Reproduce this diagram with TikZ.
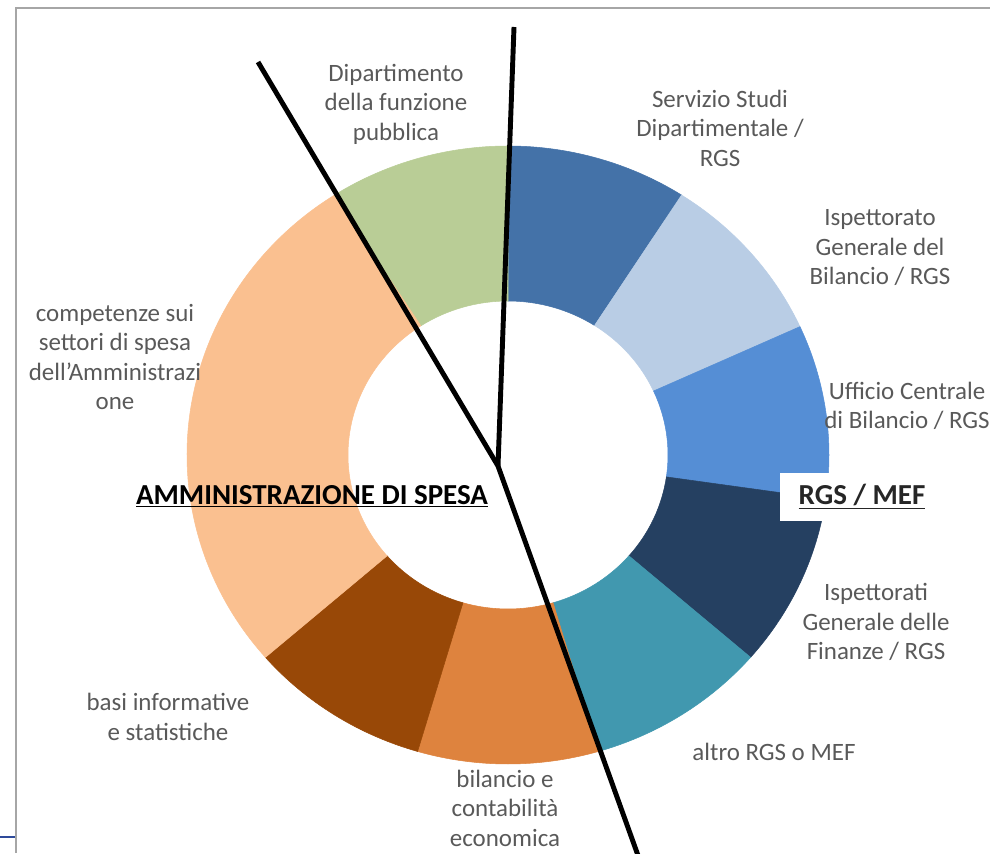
\documentclass[tikz,border=0pt]{standalone}
\usepackage{fontspec}
\setmainfont{Carlito}
\definecolor{rgsblue}{HTML}{4472A8}
\definecolor{rgslight}{HTML}{B9CDE5}
\definecolor{rgsmid}{HTML}{558ED5}
\definecolor{rgsnavy}{HTML}{254061}
\definecolor{rgsteal}{HTML}{4198AF}
\definecolor{amorange}{HTML}{DE833E}
\definecolor{ambrown}{HTML}{984807}
\definecolor{ampeach}{HTML}{FAC090}
\definecolor{amgreen}{HTML}{B9CD96}
\definecolor{labelgray}{HTML}{595959}
\definecolor{framegray}{HTML}{A6A6A6}
\definecolor{slideblue}{HTML}{2E4A9A}
\begin{document}
\begin{tikzpicture}[x=0.02cm, y=0.02cm,
    lbl/.style={align=center, text=labelgray, font=\fontsize{14.2}{16.8}\selectfont},
    ttl/.style={font=\bfseries\fontsize{16.5}{20}\selectfont},
    divider/.style={black, line width=2.8pt}]
    % Page frame
    \useasboundingbox (0,0) rectangle (990,853);
    \clip (0,0) rectangle (990,853);
    \draw[framegray, line width=1.2pt] (16,0) -- (16,845) -- (990,845);
    \draw[slideblue, line width=1.2pt] (0,16) -- (15,16);
    
    % Donut segments (11 equal parts, clockwise from the top)
    \begin{scope}[shift={(508,398)}]
    \foreach \a/\b/\col in {90/57.27/rgsblue, 57.27/24.55/rgslight, 24.55/-8.18/rgsmid,
            -8.18/-40.91/rgsnavy, -40.91/-73.64/rgsteal, -73.64/-106.36/amorange,
            -106.36/-139.09/ambrown, -139.09/-237.27/ampeach, -237.27/-270/amgreen}
        \fill[\col, draw=\col, line width=0.3pt] (\a:321 and 309)
            arc[start angle=\a, end angle=\b, x radius=321, y radius=309]
            -- (\b:160 and 154)
            arc[start angle=\b, end angle=\a, x radius=160, y radius=154] -- cycle;
    \end{scope}
    
    % Dividing lines
    \coordinate (hub) at (498,387);
    \coordinate (vtop) at (514,826);
    \coordinate (dtop) at (258,791);
    \coordinate (dend) at (640,-8);
    \draw[divider] (vtop) -- (hub);
    \draw[divider] (dtop) -- (hub) -- (dend);
    
    % Segment labels
    \node[lbl] (dfp) at (396,749) {Dipartimento\\della funzione\\pubblica};
    \node[lbl] (sds) at (720,725) {Servizio Studi\\Dipartimentale /\\RGS};
    \node[lbl] (igb) at (880,605) {Ispettorato\\Generale del\\Bilancio / RGS};
    \node[lbl] (ucb) at (907,447) {Ufficio Centrale\\di Bilancio / RGS};
    \node[lbl] (igf) at (876,231) {Ispettorati\\Generale delle\\Finanze / RGS};
    \node[lbl] (altro) at (774,101) {altro RGS o MEF};
    \node[lbl] (bce) at (505,45) {bilancio e\\contabilità\\economica};
    \node[lbl] (bis) at (168,136) {basi informative\\e statistiche};
    \node[lbl] (css) at (115,496) {competenze sui\\settori di spesa\\dell’Amministrazi\\one};
    
    % Titles
    \node[ttl, anchor=base] (amm) at (312,349) {\underline{AMMINISTRAZIONE DI SPESA}};
    \node[ttl, text=black!85, fill=white, inner xsep=0.38cm, minimum height=0.96cm] (rgs)
        at (862,356) {\underline{RGS / MEF}};
\end{tikzpicture}
\end{document}
